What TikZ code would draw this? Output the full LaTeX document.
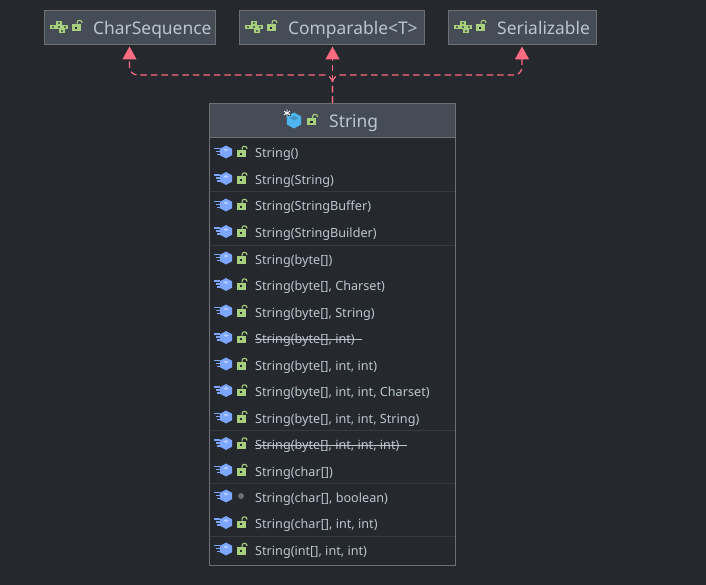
\documentclass[tikz,border=0pt]{standalone}
\usepackage{fontspec}
\setmainfont{Noto Sans}
\usetikzlibrary{arrows.meta,calc}
\definecolor{bg}{HTML}{25292E}
\definecolor{headfill}{HTML}{454C55}
\definecolor{edge}{HTML}{6E7174}
\definecolor{sep}{HTML}{373B40}
\definecolor{txt}{HTML}{BBC6D0}
\definecolor{pinkc}{HTML}{FF6B80}
\definecolor{greenc}{HTML}{A7CF7E}
\definecolor{bluec}{HTML}{7CA6FF}
\definecolor{cyanc}{HTML}{4DB6EE}
\definecolor{greyc}{HTML}{6B6F74}
\tikzset{
  x=1pt,y=-1pt,
  boxn/.style={draw=edge,fill=headfill,line width=1pt,inner sep=0pt,rectangle},
  titletxt/.style={text=txt,inner sep=0pt,anchor=base west,font=\fontsize{17.4}{20}\selectfont},
  rowtxt/.style={text=txt,inner sep=0pt,anchor=base west,font=\fontsize{12.65}{15}\selectfont},
  realize/.style={draw=pinkc,line width=1.2pt,dash pattern=on 6.5pt off 4pt,rounded corners=8pt,shorten >=1.5pt,
     -{Triangle[length=13pt,width=14pt,fill=pinkc]}},
  sepline/.style={draw=sep,line width=1pt},
  strikeln/.style={draw=txt,line width=.9pt},
  pics/lockico/.style={code={
    \fill[greenc] (-5,-2.5) rectangle (4,5);
    \fill[bg] (-1.6,.2) rectangle (.6,2.4);
    \draw[greenc,line width=1.1pt] (.6,-2.5) -- (.6,-4) .. controls (.6,-7) and (5.6,-7) .. (5.6,-3.5);
  }},
  pics/methodico/.style={code={
    \draw[bluec,line width=1.1pt] (-12,-3.5) -- (-6,-3.5) (-10.5,-.5) -- (-6,-.5) (-9,2.5) -- (-6,2.5);
    \fill[bluec] (0,-6.4) -- (6.2,-3.2) -- (6.2,3.2) -- (0,6.4) -- (-6.2,3.2) -- (-6.2,-3.2) -- cycle;
    \fill[white!45!bluec] (0,-3.4) -- (2.6,-2) -- (0,-.6) -- (-2.6,-2) -- cycle;
  }},
  pics/classico/.style={code={
    \fill[cyanc] (0,-8) -- (7.2,-4) -- (7.2,4) -- (0,8) -- (-7.2,4) -- (-7.2,-4) -- cycle;
    \fill[bg!25!cyanc] (0,-4.6) -- (4.4,-2.4) -- (0,-.2) -- (-4.4,-2.4) -- cycle;
    \fill[headfill] (-10.5,-11) rectangle (-3.5,-4);
    \draw[white,line width=.9pt] (-7,-11) -- (-7,-4) (-10,-9.2) -- (-4,-5.8) (-10,-5.8) -- (-4,-9.2);
  }},
  pics/ifaceico/.style={code={
    \foreach \cx/\cy in {-6/0,0/0,6/0,0/-4,3/4}{
      \fill[greenc] (\cx-3,\cy-2.2) rectangle (\cx+3,\cy+2.2);
    }
    \foreach \cx/\cy in {-6/0,0/0,6/0,0/-4,3/4}{
      \fill[bg!60!greenc] (\cx-1,\cy-.8) rectangle (\cx+1,\cy+.8);
    }
  }},
}
\newcommand{\methodrow}[3]{%
  \pic at (226,#1-1) {methodico};
  \pic at (241.5,#1-.5) {lockico};
  \node[rowtxt] (#2) at (255,#1+5) {#3};
}
\begin{document}
\begin{tikzpicture}
\useasboundingbox[fill=bg] (0,0) rectangle (706,585);
% top boxes
\node[boxn,minimum width=171pt,minimum height=34pt] (csq) at (129.5,27.5) {};
\node[boxn,minimum width=185pt,minimum height=34pt] (cmp) at (331.5,27.5) {};
\node[boxn,minimum width=148pt,minimum height=34pt] (ser) at (522,27.5) {};
\pic at (59,27) {ifaceico};
\pic at (76.5,26.5) {lockico};
\node[titletxt] (csqt) at (93,34.6) {CharSequence};
\pic at (254,27) {ifaceico};
\pic at (271.5,26.5) {lockico};
\node[titletxt] (cmpt) at (288,34.6) {Comparable<T>};
\pic at (463,27) {ifaceico};
\pic at (480.5,26.5) {lockico};
\node[titletxt] (sert) at (497,34.6) {Serializable};
% class box
\node[draw=edge,fill=bg,line width=1pt,inner sep=0pt,minimum width=246pt,minimum height=461.5pt] (body) at (332.5,334.25) {};
\node[boxn,minimum width=246pt,minimum height=34pt] (head) at (332.5,120.5) {};
\pic at (294,120.5) {classico};
\pic at (312,120.5) {lockico};
\node[titletxt] (headt) at (329,128) {String};
% connectors
\coordinate (bus) at (332.5,75);
\draw[realize] (head.north) -- (head.north |- cmp.south);
\draw[realize] (head.north) |- (bus -| csq.south) -- (csq.south);
\draw[realize] (head.north) |- (bus -| ser.south) -- (ser.south);
% separators
\foreach \yy in {192,245.5,430.5,483.5,536.5}{
  \draw[sepline] (210,\yy) -- (455,\yy);
}
% rows
\methodrow{153}{r1}{String()}
\methodrow{179.5}{r2}{String(String)}
\methodrow{206}{r3}{String(StringBuffer)}
\methodrow{232.5}{r4}{String(StringBuilder)}
\methodrow{259}{r5}{String(byte[])}
\methodrow{285.5}{r6}{String(byte[], Charset)}
\methodrow{312}{r7}{String(byte[], String)}
\methodrow{338.5}{r8}{String(byte[], int)}
\methodrow{365}{r9}{String(byte[], int, int)}
\methodrow{391.5}{r10}{String(byte[], int, int, Charset)}
\methodrow{418}{r11}{String(byte[], int, int, String)}
\methodrow{444.5}{r12}{String(byte[], int, int, int)}
\methodrow{471}{r13}{String(char[])}
\pic at (226,496) {methodico};
\fill[greyc] (241,496) circle (3pt);
\node[rowtxt] (r14) at (255,502) {String(char[], boolean)};
\methodrow{523.5}{r15}{String(char[], int, int)}
\methodrow{550}{r16}{String(int[], int, int)}
\draw[strikeln] ($(r8.base west)+(0,-4.5)$) -- ($(r8.base east)+(7,-4.5)$);
\draw[strikeln] ($(r12.base west)+(0,-4.5)$) -- ($(r12.base east)+(7,-4.5)$);
\end{tikzpicture}
\end{document}
